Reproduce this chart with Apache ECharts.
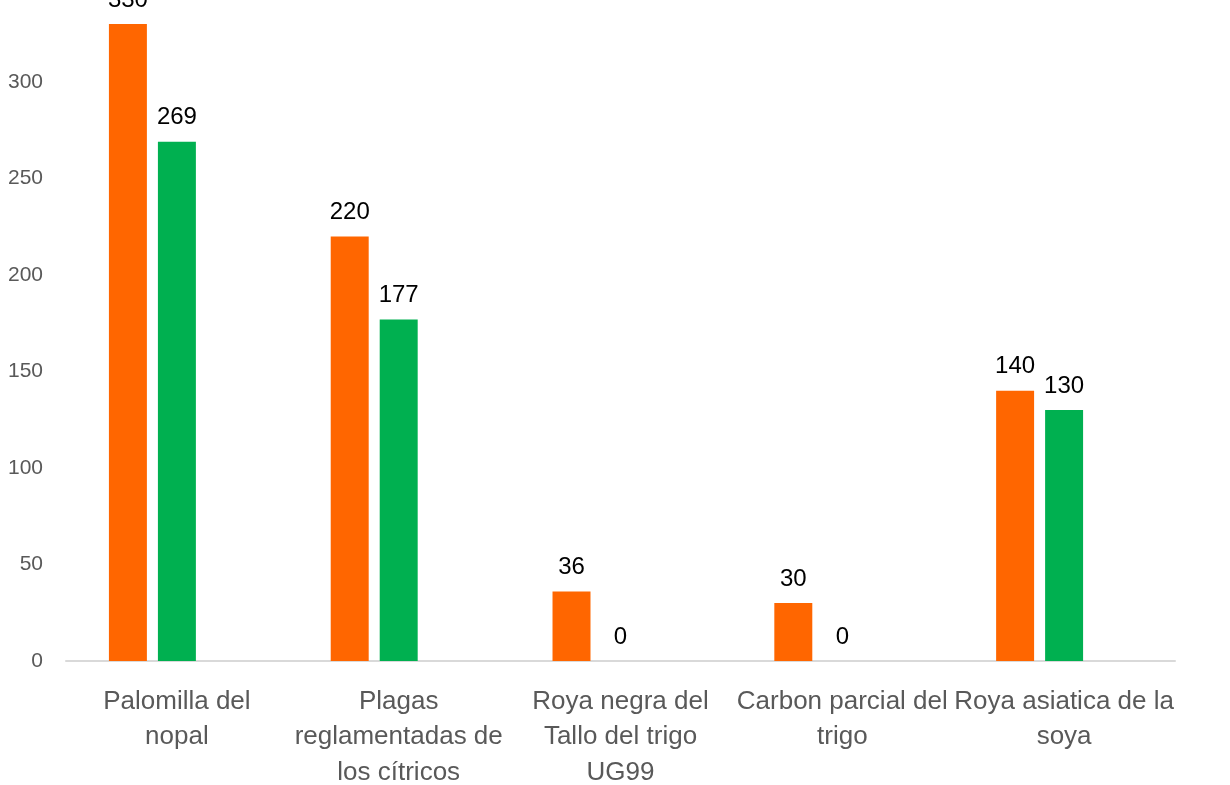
<!DOCTYPE html>
<html><head><meta charset="utf-8">
<script src="https://cdn.jsdelivr.net/npm/echarts@6/dist/echarts.min.js"></script>
<style>html,body{margin:0;padding:0;background:#fff}#c{width:1230px;height:785px}</style>
</head><body><div id="c"></div>
<script>
const categories = ["Palomilla del\nnopal", "Plagas\nreglamentadas de\nlos cítricos", "Roya negra del\nTallo del trigo\nUG99", "Carbon parcial del\ntrigo", "Roya asiatica de la\nsoya"];
const seriesA = [330, 220, 36, 30, 140];
const seriesB = [269, 177, 0, 0, 130];
const seriesC = [null, null, null, null, null];
const yTicks = [0, 50, 100, 150, 200, 250, 300, 350];

const chart = echarts.init(document.getElementById('c'), null, {renderer: 'canvas'});
const labelStyle = {show: true, position: 'top', distance: 12, color: '#000', fontSize: 24, fontFamily: 'Liberation Sans'};
chart.setOption({
  animation: false,
  grid: {left: 66, right: 55, top: -14.5, bottom: 124, containLabel: false, outerBoundsMode: 'none'},
  xAxis: {
    type: 'category', data: categories,
    axisLine: {lineStyle: {color: '#D9D9D9', width: 2}},
    axisTick: {show: false},
    axisLabel: {color: '#595959', fontSize: 26, fontFamily: 'Liberation Sans', lineHeight: 35.5, margin: 23, interval: 0}
  },
  yAxis: {
    type: 'value', min: yTicks[0], max: yTicks[yTicks.length - 1], interval: 50,
    splitLine: {show: false}, axisLine: {show: false}, axisTick: {show: false},
    axisLabel: {color: '#595959', fontSize: 21, fontFamily: 'Liberation Sans', margin: 23}
  },
  series: [
    {type: 'bar', data: seriesA, itemStyle: {color: '#FF6600'}, barGap: '29%', barCategoryGap: '38.7%', label: labelStyle},
    {type: 'bar', data: seriesB, itemStyle: {color: '#00B050'}, label: labelStyle},
    {type: 'bar', data: seriesC, itemStyle: {color: '#4472C4'}}
  ]
});
</script></body></html>
